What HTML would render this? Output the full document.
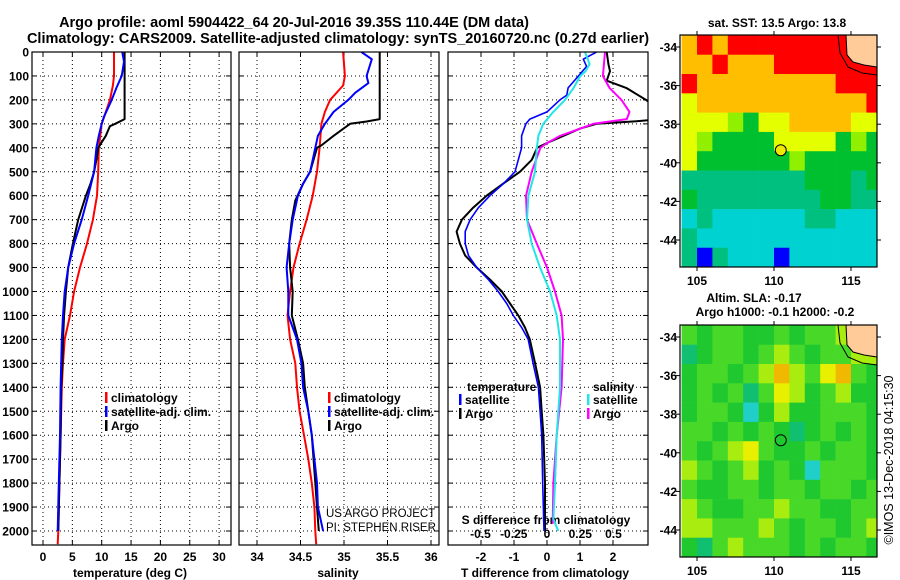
<!DOCTYPE html>
<html><head><meta charset="utf-8">
<style>
html,body{margin:0;padding:0;background:#fff;}
svg{display:block;font-family:"Liberation Sans",Arial,sans-serif;}
.b{font-weight:bold;font-size:12px;fill:#000;}
.t{font-weight:bold;font-size:14.5px;fill:#000;}
</style></head>
<body>
<svg id="chart" width="900" height="580" viewBox="0 0 900 580" xmlns="http://www.w3.org/2000/svg">
<defs>
<clipPath id="c1"><rect x="32" y="52" width="199" height="493"/></clipPath>
<clipPath id="c2"><rect x="239" y="52" width="200" height="493"/></clipPath>
<clipPath id="c3"><rect x="448" y="52" width="200" height="493"/></clipPath>
</defs>
</svg>
<script>
// ---------- profile data ----------
const climTDepth=[0,100,140,200,300,400,500,600,700,800,900,1000,1100,1200,1300,1400,1500,1600,1800,2000,2055];
const climT=[12.1,12.1,11.9,11.4,10.0,9.5,9.4,9.2,8.5,7.5,6.3,5.3,4.6,3.7,3.4,3.2,3.1,3.0,2.8,2.6,2.5];
const satTDepth=[0,40,100,150,200,270,300,350,400,500,600,700,800,900,1000,1100,1200,1300,1400,1600,1800,2000];
const satT=[13.5,13.8,13.4,12.5,11.7,10.4,10.0,9.5,9.1,8.7,7.7,6.6,5.3,4.3,3.7,3.4,3.2,3.1,3.0,2.9,2.7,2.5];
const argoTDepth=[0,280,300,310,350,400,450,500,550,600,700,800,900,1000,1100,1200,1300,1400,1600,1800,2000];
const argoT=[13.9,13.9,12.3,11.4,10.7,9.4,9.1,8.7,8.1,7.3,6.0,5.1,4.3,3.9,3.6,3.4,3.3,3.1,3.0,2.8,2.6];

const climSDepth=[0,100,140,200,250,300,400,500,600,700,800,900,1000,1100,1200,1300,1400,1500,1600,1700,1800,1900,2000,2055];
const climS=[34.99,35.01,34.99,34.84,34.78,34.74,34.72,34.69,34.64,34.57,34.49,34.42,34.38,34.35,34.38,34.44,34.46,34.49,34.54,34.59,34.63,34.66,34.67,34.68];
const satSDepth=[0,30,100,130,170,200,250,300,350,400,500,550,600,700,800,900,1000,1100,1200,1300,1400,1500,1600,1700,1800,1900,2000];
const satS=[35.2,35.32,35.26,35.28,35.13,35.05,34.88,34.78,34.70,34.67,34.61,34.53,34.47,34.41,34.37,34.34,34.36,34.36,34.46,34.51,34.53,34.59,34.63,34.66,34.69,34.70,34.76];
const argoSDepth=[0,280,290,300,350,390,400,500,550,620,700,800,900,1000,1100,1200,1300,1400,1600,1800,1900,2000];
const argoS=[35.41,35.41,35.26,35.07,34.88,34.74,34.69,34.61,34.53,34.44,34.40,34.37,34.38,34.41,34.40,34.47,34.53,34.55,34.63,34.67,34.69,34.71];

const argoDTDepth=[0,50,80,120,150,200,250,280,290,300,320,350,380,400,450,500,550,600,650,700,750,800,850,900,950,1000,1050,1100,1150,1200,1300,1400,1500,1600,1800,2000];
const argoDT=[1.81,1.86,1.91,1.81,2.4,3.0,3.5,3.5,2.6,1.5,1.0,0.5,0.0,-0.3,-0.46,-0.82,-1.33,-1.83,-2.24,-2.58,-2.74,-2.64,-2.48,-2.13,-1.73,-1.37,-1.12,-0.87,-0.67,-0.52,-0.36,-0.21,-0.16,-0.11,-0.06,-0.06];
const satDTDepth=[0,30,60,100,150,180,200,250,280,300,350,400,450,500,550,600,650,700,750,800,850,900,950,1000,1050,1100,1150,1200,1300,1400,1500,1600,1800,2000];
const satDT=[1.5,1.1,1.2,0.95,0.64,0.6,0.39,0.0,-0.52,-0.64,-0.77,-0.77,-0.87,-0.97,-1.32,-1.73,-2.08,-2.33,-2.48,-2.48,-2.38,-2.13,-1.78,-1.48,-1.22,-1.02,-0.77,-0.57,-0.42,-0.26,-0.21,-0.16,-0.13,-0.09];
const satDSDepth=[0,50,80,100,150,200,250,300,350,400,500,600,700,800,900,1000,1100,1200,1400,1600,1800,1950,2000];
const satDS=[0.286,0.32,0.29,0.25,0.20,0.135,0.047,-0.028,-0.065,-0.077,-0.09,-0.14,-0.15,-0.115,-0.053,0.023,0.073,0.098,0.098,0.073,0.06,0.048,0.085];
const argoDSDepth=[0,100,150,200,250,280,300,350,380,400,500,600,700,800,900,1000,1100,1200,1400,1600,1800,1970];
const argoDS=[0.436,0.42,0.47,0.56,0.62,0.6,0.35,0.10,0.0,-0.05,-0.115,-0.158,-0.15,-0.077,0.0,0.06,0.11,0.12,0.11,0.073,0.048,0.043];

// ticks
const depthTicks=[0,100,200,300,400,500,600,700,800,900,1000,1100,1200,1300,1400,1500,1600,1700,1800,1900,2000];
const tempTicks=[0,5,10,15,20,25,30];
const salTicks=[34,34.5,35,35.5,36];
const dTTicks=[-2,-1,0,1,2];
const dSTicks=[-0.5,-0.25,0,0.25,0.5];
const dSTickLabels=["-0.5","-0.25","0","0.25","0.5"];
const latTicks=[-34,-36,-38,-40,-42,-44];
const lonTicks=[105,110,115];

// map data: levels per 1-degree cell, rows from -33.4 southwards, cols from 104E
const sstGrid=[
[6,7,6,7,7,7,7,7,7,7,7,7,7],
[6,6,7,6,6,6,7,7,7,7,7,7,7],
[7,6,6,6,6,6,6,6,6,6,7,7,7],
[5,6,6,6,6,6,6,6,6,6,6,6,7],
[5,5,5,4,3,5,5,6,6,6,6,5,5],
[5,4,3,3,3,3,5,5,5,5,3,4,3],
[5,3,3,3,3,3,3,4,3,3,3,3,3],
[2,2,2,2,2,2,2,2,3,3,3,2,3],
[3,2,2,2,2,2,2,2,2,3,3,2,2],
[1,2,1,1,1,1,1,1,2,2,1,1,1],
[2,1,1,1,1,1,1,1,1,1,1,1,1],
[2,0,2,1,1,1,0,1,1,1,1,1,1]];
const sstColors=['#0000ff','#00d2d2','#00c080','#00c030','#90f000','#e4ff00','#ffbf00','#ff0000'];
const slaGrid=[
[3,2,3,3,2,2,3,2,3,3,4,5,5],
[1,2,3,3,2,3,4,3,2,3,3,4,4],
[2,3,3,2,3,4,6,4,3,5,6,3,2],
[2,3,2,3,1,3,5,4,2,3,4,2,2],
[2,3,3,2,0,2,4,2,2,3,3,3,2],
[3,3,2,3,2,3,2,1,2,3,2,3,2],
[3,2,3,4,5,3,2,2,3,2,3,3,2],
[4,3,2,3,4,2,3,2,0,3,3,3,2],
[3,2,2,3,3,2,3,3,2,3,3,2,3],
[4,3,2,2,3,3,4,3,3,2,2,3,3],
[4,4,3,3,3,4,3,2,3,3,2,3,4],
[2,1,3,4,3,3,3,2,3,2,3,3,2]];
const slaColors=['#20d0c8','#10c070','#20c830','#48d828','#a8ec10','#e8f000','#f0b800'];
const argoLon=110.44, argoLat=-39.35;

const NS='http://www.w3.org/2000/svg';
const svg=document.getElementById('chart');
function mk(tag,attrs,parent){const e=document.createElementNS(NS,tag);for(const k in attrs)e.setAttribute(k,attrs[k]);(parent||svg).appendChild(e);return e;}
function txt(s,x,y,cls,anchor,parent){const e=mk('text',{x:x,y:y,class:cls,'text-anchor':anchor||'middle'},parent);e.textContent=s;return e;}

const Y0=52,Y1=545;
const yD=d=>Y0+d*0.2395;
const xT=t=>43+t*5.87;
const xS=s=>257+(s-34)*87;
const xDT=v=>547+v*33;
const xDS=v=>547+v*133;

const panels=[{x:32,w:199,clip:'c1',name:'temperature-panel'},{x:239,w:200,clip:'c2',name:'salinity-panel'},{x:448,w:200,clip:'c3',name:'difference-panel'}];

// titles
let e=txt('Argo profile: aoml 5904422_64 20-Jul-2016 39.35S 110.44E (DM data)',294,27,'t');


e=txt('Climatology: CARS2009. Satellite-adjusted climatology: synTS_20160720.nc (0.27d earlier)',338,43,'t');



// grids
function vgrid(g,xs,p){xs.forEach(x=>{mk('line',{x1:x,x2:x,y1:Y0,y2:Y1,stroke:'#000','stroke-width':1,'stroke-dasharray':'1,3'},g);
 mk('line',{x1:x,x2:x,y1:Y1,y2:Y1-5,stroke:'#000'},g);mk('line',{x1:x,x2:x,y1:Y0,y2:Y0+5,stroke:'#000'},g);});}
panels.forEach((p,i)=>{
 const g=mk('g',{});
 
 
 depthTicks.forEach(d=>{const y=yD(d);
  mk('line',{x1:p.x,x2:p.x+p.w,y1:y,y2:y,stroke:'#000','stroke-width':1,'stroke-dasharray':'1,3'},g);
  mk('line',{x1:p.x,x2:p.x+5,y1:y,y2:y,stroke:'#000'},g);
  mk('line',{x1:p.x+p.w-5,x2:p.x+p.w,y1:y,y2:y,stroke:'#000'},g);});
 if(i===0)vgrid(g,tempTicks.map(xT));
 if(i===1)vgrid(g,salTicks.map(xS));
 if(i===2)vgrid(g,dTTicks.map(xDT));
 p.g=g;
});
// depth labels
const dl=mk('g',{});


depthTicks.forEach(d=>txt(String(d),29,yD(d)+4.5,'b','end',dl));

// x tick labels
const xl=mk('g',{});


tempTicks.forEach(t=>txt(String(t),xT(t),561,'b','middle',xl));
salTicks.forEach(s=>txt(String(s),xS(s),561,'b','middle',xl));
dTTicks.forEach(v=>txt(String(v),xDT(v),561,'b','middle',xl));
dSTicks.forEach((v,i)=>txt(dSTickLabels[i],xDS(v),538,'b','middle',xl));
e=txt('temperature (deg C)',130,577,'b');


e=txt('salinity',338,577,'b');


e=txt('T difference from climatology',545,577,'b');


e=txt('S difference from climatology',546,524,'b');



// series
function line(depths,vals,xf,color,w,clip,name){
 const pts=depths.map((d,i)=>xf(vals[i]).toFixed(1)+','+yD(d).toFixed(1)).join(' ');
 const el=mk('polyline',{points:pts,fill:'none',stroke:color,'stroke-width':w,'clip-path':'url(#'+clip+')','stroke-linejoin':'round'});
 
 
}
line(climTDepth,climT,xT,'#ff0000',2,'c1','temperature-climatology-line');
line(argoTDepth,argoT,xT,'#000',2,'c1','temperature-argo-line');
line(satTDepth,satT,xT,'#0000ff',2,'c1','temperature-satellite-line');
line(climSDepth,climS,xS,'#ff0000',2,'c2','salinity-climatology-line');
line(argoSDepth,argoS,xS,'#000',2,'c2','salinity-argo-line');
line(satSDepth,satS,xS,'#0000ff',2,'c2','salinity-satellite-line');
line(argoDTDepth,argoDT,xDT,'#000',2,'c3','t-diff-argo-line');
line(satDTDepth,satDT,xDT,'#0000ff',1.6,'c3','t-diff-satellite-line');
line(argoDSDepth,argoDS,xDS,'#ff00ff',2,'c3','s-diff-argo-line');
line(satDSDepth,satDS,xDS,'#22e6e6',2,'c3','s-diff-satellite-line');

// panel borders
panels.forEach(p=>{mk('rect',{x:p.x,y:Y0,width:p.w,height:Y1-Y0,fill:'none',stroke:'#000','stroke-width':1.2});});

// legends
function leg(x,y,color,label,name){
 const g=mk('g',{});
 
 
 mk('rect',{x:x,y:y-10,width:2.5,height:11,fill:color},g);
 txt(label,x+6,y,'b','start',g);
}
leg(105,402,'#ff0000','climatology','legend-climatology');
leg(105,416,'#0000ff','satellite-adj. clim.','legend-satellite-adj');
leg(105,430,'#000','Argo','legend-argo');
leg(328,402,'#ff0000','climatology','legend-sal-climatology');
leg(328,416,'#0000ff','satellite-adj. clim.','legend-sal-satellite-adj');
leg(328,430,'#000','Argo','legend-sal-argo');
e=txt('temperature',467,391,'b','start');


leg(459,404,'#0000ff','satellite','legend-t-satellite');
leg(459,418,'#000','Argo','legend-t-argo');
e=txt('salinity',593,391,'b','start');


leg(587,404,'#22e6e6','satellite','legend-s-satellite');
leg(587,418,'#ff00ff','Argo','legend-s-argo');

const cr=mk('g',{'clip-path':'url(#c2)'});


let c=mk('text',{x:326,y:517,'font-size':'11.5',fill:'#000'},cr);c.textContent='US ARGO PROJECT';
c=mk('text',{x:326,y:531,'font-size':'11.5',fill:'#000'},cr);c.textContent='PI: STEPHEN RISER';

// maps
function drawMap(top,grid,colors,name,fillCircle){
 const g=mk('g',{});
 
 
 const L=680,R=877,B=top+232;
 const lonX=lon=>697+(lon-105)*15.4;
 const latY=lat=>top+12+(-34-lat)*19.3;
 grid.forEach((row,r)=>row.forEach((v,ci)=>{
  const x0=lonX(104+ci),x1=lonX(105+ci),y0=latY(-33.4-r),y1=latY(-34.4-r);
  const cell=mk('rect',{x:Math.max(L,x0),y:Math.max(top,y0),width:Math.min(R,x1)-Math.max(L,x0)+0.3,height:Math.min(B,y1)-Math.max(top,y0)+0.3,fill:colors[v]},g);
  
 }));
 mk('path',{d:`M838,${top} L840,${top+18} L848,${top+32} L862,${top+38} L877,${top+40}`,fill:'none',stroke:'#000','stroke-width':1},g);
 mk('path',{d:`M846,${top} L847,${top+20} L853,${top+27} L864,${top+30} L877,${top+32} L877,${top} Z`,fill:'#ffcc99',stroke:'#000','stroke-width':1},g);
 mk('circle',{cx:lonX(argoLon),cy:latY(argoLat),r:5.5,fill:fillCircle,stroke:'#000','stroke-width':1},g);
 mk('rect',{x:L,y:top,width:R-L,height:B-top,fill:'none',stroke:'#000','stroke-width':1.2},g);
 latTicks.forEach(lat=>{const y=latY(lat);mk('line',{x1:L,x2:L-4,y1:y,y2:y,stroke:'#000'},g);mk('line',{x1:R,x2:R+4,y1:y,y2:y,stroke:'#000'},g);txt(String(lat),677,y+4.5,'b','end',g);});
 lonTicks.forEach(lon=>{const x=lonX(lon);mk('line',{x1:x,x2:x,y1:B,y2:B+4,stroke:'#000'},g);mk('line',{x1:x,x2:x,y1:top,y2:top-4,stroke:'#000'},g);txt(String(lon),x,B+18,'b','middle',g);});
}
drawMap(35,sstGrid,sstColors,'sst-map','#f0e800');
drawMap(325,slaGrid,slaColors,'sla-map','none');
e=txt('sat. SST: 13.5 Argo: 13.8',777,27,'b');


e=txt('Altim. SLA: -0.17',754,302,'b');


e=txt('Argo h1000: -0.1 h2000: -0.2',775,316,'b');


e=mk('text',{x:0,y:0,'font-size':'12.5',fill:'#000','text-anchor':'middle',transform:'translate(893,460) rotate(-90)'});
e.textContent='©IMOS 13-Dec-2018 04:15:30';


</script>
</body></html>
